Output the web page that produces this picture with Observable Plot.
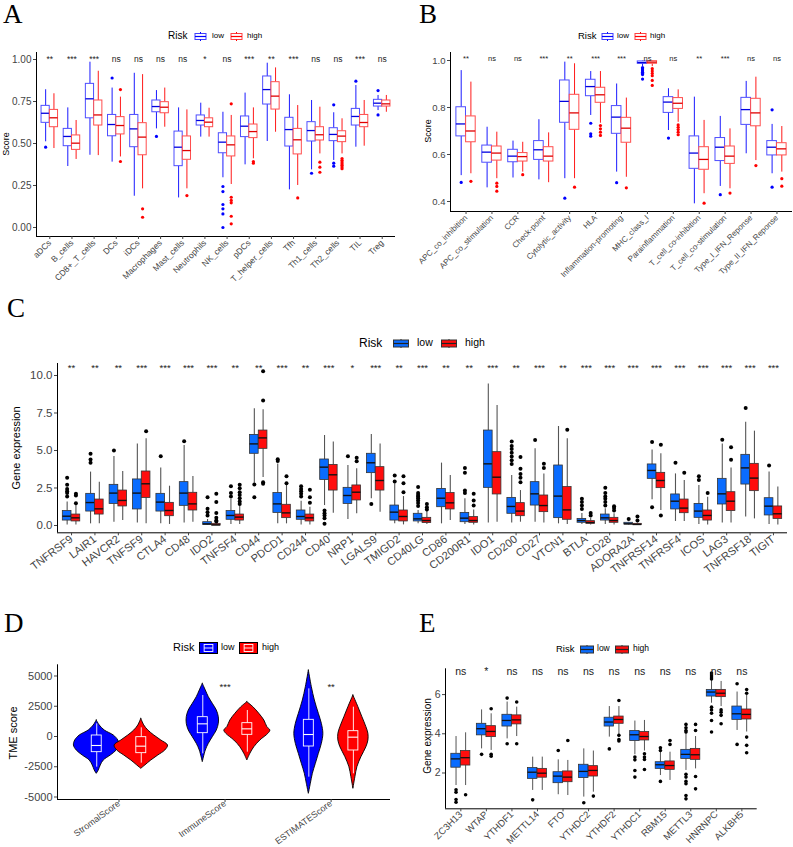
<!DOCTYPE html>
<html><head><meta charset="utf-8">
<script src="https://cdn.jsdelivr.net/npm/d3@7"></script>
<script src="https://cdn.jsdelivr.net/npm/@observablehq/plot@0.6"></script>
<style>
body{margin:0;background:#fff;font-family:"Liberation Sans",Arial,sans-serif;}
#root{position:relative;width:793px;height:847px;overflow:hidden;background:#fff;}
.letter{position:absolute;font-family:"Liberation Serif","Times New Roman",serif;font-size:27px;line-height:1.1;color:#000;}
.ytitle{position:absolute;white-space:nowrap;transform:translate(-50%,-50%) rotate(-90deg);color:#000;line-height:1;}
.lg{position:absolute;white-space:nowrap;color:#000;}
</style></head><body><div id="root"></div>
<script>
// ---------------- Panel A: immune cells (ssGSEA score) ----------------
const A_cells = ["aDCs","B_cells","CD8+_T_cells","DCs","iDCs","Macrophages","Mast_cells","Neutrophils","NK_cells","pDCs","T_helper_cells","Tfh","Th1_cells","Th2_cells","TIL","Treg"];
const A_sig = ["**","***","***","ns","ns","ns","ns","*","ns","***","**","***","ns","ns","***","ns"];
// [lower whisker, Q1, median, Q3, upper whisker]
const A_low = [
 [0.51,0.623,0.68,0.724,0.82],[0.363,0.484,0.542,0.587,0.712],[0.43,0.65,0.766,0.855,0.984],[0.389,0.543,0.613,0.67,0.83],
 [0.186,0.478,0.587,0.67,0.918],[0.587,0.686,0.72,0.756,0.815],[0.176,0.365,0.478,0.571,0.712],[0.538,0.607,0.637,0.667,0.74],
 [0.296,0.442,0.508,0.561,0.686],[0.373,0.538,0.603,0.661,0.80],[0.512,0.732,0.821,0.899,0.978],[0.224,0.482,0.583,0.653,0.79],
 [0.343,0.512,0.577,0.627,0.756],[0.399,0.514,0.554,0.591,0.683],[0.478,0.607,0.661,0.706,0.845],[0.696,0.72,0.74,0.76,0.786]];
const A_high = [
 [0.47,0.597,0.653,0.70,0.796],[0.405,0.462,0.502,0.548,0.637],[0.428,0.607,0.67,0.756,0.93],[0.42,0.554,0.607,0.657,0.776],
 [0.23,0.43,0.538,0.621,0.91],[0.597,0.68,0.716,0.746,0.83],[0.23,0.403,0.458,0.542,0.70],[0.538,0.597,0.627,0.65,0.71],
 [0.256,0.423,0.492,0.542,0.667],[0.409,0.532,0.571,0.613,0.712],[0.567,0.702,0.782,0.865,0.95],[0.25,0.435,0.522,0.587,0.726],
 [0.438,0.518,0.552,0.597,0.716],[0.438,0.508,0.544,0.573,0.647],[0.484,0.597,0.625,0.67,0.756],[0.686,0.72,0.736,0.756,0.786]];
const A_lowOut = [[0.478],[],[],[0.89],[],[0.542],[],[],[0.244,0.214,0.137,0.111,0.081,0.0],[],[],[],[0.323],[0.73,0.383,0.365],[0.871],[0.815,0.67]];
const A_highOut = [[],[],[],[0.821,0.393],[0.111,0.061],[],[0.19],[],[0.736,0.18,0.161,0.147,0.067,0.022],[0.393,0.383],[],[0.176],[0.389,0.359,0.329],[0.41,0.40,0.39,0.38,0.37,0.36,0.35],[],[]];
const A_yTicks = [0, 0.25, 0.5, 0.75, 1.0];

// ---------------- Panel B: immune functions ----------------
const B_sets = ["APC_co_inhibition","APC_co_stimulation","CCR","Check-point","Cytolytic_activity","HLA","Inflammation-promoting","MHC_class_I","Parainflammation","T_cell_co-inhibition","T_cell_co-stimulation","Type_I_IFN_Reponse","Type_II_IFN_Reponse"];
const B_sig = ["**","ns","ns","***","**","***","***","ns","ns","**","***","ns","ns"];
const B_low = [
 [0.51,0.677,0.73,0.801,0.957],[0.458,0.565,0.61,0.638,0.716],[0.50,0.567,0.593,0.62,0.657],[0.492,0.577,0.62,0.657,0.748],
 [0.497,0.735,0.826,0.915,0.993],[0.766,0.848,0.889,0.918,0.953],[0.525,0.688,0.759,0.806,0.90],[0.974,0.986,0.991,0.996,0.998],
 [0.702,0.777,0.823,0.844,0.88],[0.39,0.539,0.606,0.677,0.844],[0.464,0.572,0.631,0.67,0.762],[0.603,0.726,0.791,0.841,0.911],
 [0.518,0.596,0.631,0.657,0.728]];
const B_high = [
 [0.518,0.652,0.70,0.762,0.908],[0.497,0.574,0.606,0.634,0.695],[0.525,0.57,0.591,0.606,0.652],[0.48,0.57,0.593,0.631,0.692],
 [0.497,0.705,0.777,0.854,0.986],[0.733,0.82,0.854,0.884,0.953],[0.503,0.65,0.712,0.756,0.84],[0.974,0.986,0.993,0.997,0.999],
 [0.737,0.794,0.818,0.84,0.875],[0.433,0.535,0.579,0.631,0.745],[0.454,0.56,0.593,0.634,0.709],[0.574,0.72,0.777,0.837,0.929],
 [0.525,0.596,0.624,0.648,0.719]];
const B_lowOut = [[0.481],[],[],[],[0.414],[0.733,0.688,0.678],[0.48],[0.97,0.965,0.96,0.955,0.95,0.945,0.94,0.921],[0.67],[],[0.429],[],[0.79,0.461]];
const B_highOut = [[0.486],[0.478,0.464,0.444],[0.514],[],[0.461],[0.723,0.709,0.695,0.681],[0.458],[0.965,0.955,0.945,0.935,0.915,0.894],[0.726,0.716,0.706,0.695,0.684],[0.393],[0.436],[0.553],[0.497,0.465]];
const B_yTicks = [0.4, 0.6, 0.8, 1.0];

// ---------------- Panel C: immune checkpoint genes ----------------
const C_genes = ["TNFRSF9","LAIR1","HAVCR2","TNFSF9","CTLA4","CD48","IDO2","TNFSF4","CD44","PDCD1","CD244","CD40","NRP1","LGALS9","TMIGD2","CD40LG","CD86","CD200R1","IDO1","CD200","CD27","VTCN1","BTLA","CD28","ADORA2A","TNFRSF14","TNFRSF4","ICOS","LAG3","TNFRSF18","TIGIT"];
const C_sig = ["**","**","**","***","***","***","***","**","**","***","**","***","*","***","**","***","**","**","***","**","***","**","***","***","***","***","***","***","***","***","***"];
const C_low = [
 [0.04,0.33,0.62,0.96,1.56],[0.11,0.93,1.53,2.11,3.56],[0.22,1.44,2.16,2.71,4.6],[0.16,1.07,2.16,3.07,5.44],
 [0.11,0.93,1.56,2.11,3.84],[0.16,1.31,2.16,2.89,5.33],[0.0,0.04,0.11,0.22,0.4],[0.07,0.38,0.67,0.96,1.75],
 [2.82,4.78,5.44,6.04,7.78],[0.11,0.84,1.44,2.16,4.1],[0.04,0.38,0.6,1.0,1.62],[1.33,3.04,3.89,4.4,6.0],
 [0.4,1.44,2.0,2.51,4.0],[1.78,3.49,4.18,4.78,6.07],[0.11,0.33,0.89,1.33,2.78],[0.11,0.27,0.44,0.78,1.0],
 [0.11,1.22,1.82,2.44,4.16],[0.07,0.22,0.49,0.84,1.78],[0.16,2.51,4.11,6.33,9.44],[0.16,0.78,1.27,1.84,3.33],
 [0.22,1.33,2.11,2.89,5.11],[0.11,0.49,1.96,4.0,6.6],[0.07,0.18,0.33,0.44,0.8],[0.07,0.33,0.51,0.73,1.11],
 [0.04,0.07,0.11,0.18,0.22],[1.71,3.11,3.67,4.07,5.04],[0.27,1.07,1.62,2.07,3.44],[0.07,0.51,0.96,1.44,2.67],
 [0.16,1.4,2.11,3.11,5.44],[0.56,2.73,3.84,4.71,6.89],[0.07,0.67,1.29,1.82,3.56]];
const C_high = [
 [0.04,0.27,0.51,0.73,1.33],[0.11,0.73,1.11,1.73,2.89],[0.33,1.27,1.67,2.33,3.6],[0.11,1.84,2.78,3.6,5.78],
 [0.07,0.62,1.0,1.51,2.62],[0.22,1.0,1.44,2.18,3.27],[0.0,0.0,0.04,0.11,0.2],[0.07,0.33,0.56,0.73,1.3],
 [3.2,5.11,5.84,6.33,7.71],[0.11,0.49,0.84,1.38,2.7],[0.04,0.27,0.51,0.73,1.22],[0.82,2.33,3.38,4.04,5.56],
 [0.78,1.67,2.22,2.67,3.78],[0.89,2.33,3.0,3.89,5.44],[0.04,0.27,0.6,1.0,1.93],[0.07,0.16,0.33,0.51,0.95],
 [0.33,1.07,1.51,2.16,3.33],[0.04,0.18,0.33,0.56,1.04],[0.22,2.07,3.22,4.89,8.0],[0.22,0.62,0.96,1.49,2.33],
 [0.16,0.89,1.33,2.0,3.44],[0.07,0.38,1.04,2.56,5.78],[0.04,0.11,0.2,0.29,0.49],[0.04,0.18,0.33,0.51,0.78],
 [0.0,0.04,0.07,0.11,0.16],[1.0,2.49,3.0,3.51,4.78],[0.27,0.82,1.16,1.73,3.0],[0.04,0.33,0.67,1.0,1.89],
 [0.16,0.96,1.62,2.22,3.84],[0.44,2.29,3.16,4.11,6.29],[0.04,0.44,0.78,1.27,2.56]];
const C_lowOut = [
 [3.18,2.71,2.44,2.29,2.16,1.93],[4.78,4.4,4.18],[5.0],[],[4.62],[5.62],[1.89,1.11,0.89,0.67],[2.62,2.16,1.93],
 [2.73,1.89],[4.42,4.3],[2.62,2.44,2.29,2.11,1.93],[1.0,0.82,0.67,0.49,0.11],[4.62],[1.44],[3.33,2.93],
 [2.56,2.16,2.04,1.93,1.82,1.67,1.5,1.3],[],[3.84,3.51,2.33,2.16],[],[5.6,5.3,5.1,4.85,4.6,4.35,4.1],[5.7],[],
 [1.78,1.56,1.33,1.1],[2.51,2.16,1.93,1.78,1.56,1.33],[0.44],[5.56,1.22],[4.18],[3.29,3.04],[5.71],[7.84],[4.0]];
const C_highOut = [
 [2.11,2.0,1.49],[],[],[6.29],[],[],[2.11,1.56,0.84,0.51,0.33,0.27],[2.71,2.49,2.22,2.04,1.82,1.6,1.44],
 [10.29,8.33,2.89,2.78],[3.29,2.82],[2.38,1.89,1.51],[],[4.51,4.29],[],[3.29,2.82,2.22],[1.44,1.22,1.07],[],
 [2.11,1.67,1.33],[],[4.56,3.78,3.44,3.18,2.89],[4.11,3.84],[6.38],[0.84,0.67],[1.29,1.16,1.0],[0.6,0.33],
 [5.38,0.67],[3.51],[2.16],[5.22,4.38],[],[]];
const C_yTicks = [0, 2.5, 5, 7.5, 10];

// ---------------- Panel D: TME scores (violins) ----------------
const D_scores = ["StromalScore","ImmuneScore","ESTIMATEScore"];
const D_sig = ["","***","**"];
const D_lowBox = [[-2534,-1294,-743,83,1046],[-1432,275,1046,1597,3388],[-3360,-826,165,1377,3938]];
const D_highBox = [[-2203,-1377,-799,-55,716],[-1294,138,633,1102,2148],[-3083,-1156,-55,441,2423]];
// [score, relative density]
const D_lowDens = [
 [[1322,0],[909,3],[496,8],[83,17],[-330,21.5],[-743,22.8],[-1156,20],[-1570,14],[-1983,7],[-2396,4],[-2809,2],[-3083,0]],
 [[4355,0],[3800,3],[3250,6],[2700,10],[2148,14],[1597,16],[1046,16],[496,14],[-55,10],[-606,6],[-1156,3],[-2120,0]],
 [[5450,0],[4075,3],[2975,6],[1873,10],[1046,13],[220,14.5],[-606,13],[-1432,10],[-2257,7],[-3083,4],[-3909,2],[-4735,0]]];
const D_highDens = [
 [[1460,0],[909,3],[496,7],[83,13],[-330,20],[-743,26.7],[-1156,24],[-1570,17],[-1983,10],[-2396,4],[-2670,0]],
 [[2835,0],[2423,6],[1873,12],[1322,17],[771,20],[496,23],[220,21],[-330,13],[-882,7],[-1432,3],[-1983,0]],
 [[3388,0],[2423,5],[1597,9],[771,13],[220,15],[-330,15],[-882,13],[-1708,8],[-2533,4],[-3360,2],[-4322,0]]];
const D_yTicks = [-5000, -2500, 0, 2500, 5000];

// ---------------- Panel E: m6A regulators ----------------
const E_genes = ["ZC3H13","WTAP","YTHDF1","METTL14","FTO","YTHDC2","YTHDF2","YTHDC1","RBM15","METTL3","HNRNPC","ALKBH5"];
const E_sig = ["ns","*","ns","ns","ns","ns","ns","ns","ns","ns","ns","ns"];
const E_low = [
 [1.36,2.27,2.72,2.98,3.86],[3.23,3.92,4.26,4.51,5.22],[3.74,4.37,4.68,4.97,5.62],[1.11,1.7,2.04,2.25,2.81],
 [0.89,1.48,1.84,2.04,2.67],[0.77,1.74,2.08,2.42,3.23],[3.83,4.37,4.6,4.82,5.39],[2.93,3.63,3.95,4.14,4.65],
 [1.87,2.21,2.42,2.55,3.05],[2.13,2.72,2.95,3.18,4.03],[5.56,5.9,6.13,6.24,6.72],[4.17,4.71,5.02,5.39,6.13]];
const E_high = [
 [1.36,2.38,2.78,3.12,4.05],[3.15,3.83,4.12,4.39,5.02],[3.86,4.48,4.71,4.94,5.36],[1.11,1.76,1.99,2.21,2.81],
 [0.85,1.53,1.79,2.08,2.64],[1.02,1.82,2.13,2.35,3.12],[3.95,4.51,4.73,4.88,5.39],[3.12,3.66,3.86,4.09,4.68],
 [1.62,2.16,2.38,2.59,3.06],[2.21,2.67,2.93,3.23,3.86],[5.39,5.87,6.07,6.24,6.67],[4.09,4.73,4.99,5.24,5.96]];
const E_lowOut = [[1.14,1.02,0.65,0.51],[2.95],[5.82,3.49],[0.63],[3.15],[0.48],[3.23],[2.81,2.67,2.13,1.79],[3.29,3.15,1.57],
 [4.48,4.31,4.17,4.09,1.93,1.79,1.57,1.45,0.85,0.68],[7.1,7.0,6.9,6.8,5.36,5.22,5.05,4.68,4.09],[6.55,3.46]];
const E_highOut = [[0.89],[5.28,2.95,2.86],[5.62,3.49],[],[3.66],[0.82],[5.7,3.92,3.71,3.63],[2.98,2.81,2.69,2.18],[3.66,3.46],
 [4.48,4.17,1.82,1.19],[5.22,5.1,4.94,4.51],[6.26,6.07,3.83,3.41,3.03]];
const E_yTicks = [2, 4, 6];

const groups = ["low","high"];

// ---------------- helpers ----------------
const root = document.getElementById("root");
const FONT = "'Liberation Sans', Arial, sans-serif";
function put(el, left, top){ el.style.position="absolute"; el.style.left=left+"px"; el.style.top=top+"px"; root.appendChild(el); return el; }
function div(cls, html, css){ const d=document.createElement("div"); if(cls) d.className=cls; d.innerHTML=html; if(css) Object.assign(d.style, css); return d; }

function boxPanel(o){
  const n = o.names.length;
  const hw = 0.185, off = 0.1875;
  const marks = [];
  const sets = [
    {stats:o.low, out:o.lowOut, dx:-off, st:o.lowStyle},
    {stats:o.high, out:o.highOut, dx:off, st:o.highStyle}];
  for (const g of sets){
    const rows = g.stats.map((s,k)=>({x:k+1+g.dx, lo:s[0], q1:s[1], med:s[2], q3:s[3], hi:s[4]}));
    const outs = g.out.flatMap((arr,k)=>arr.map(v=>({x:k+1+g.dx, y:v})));
    marks.push(
      Plot.ruleX(rows,{x:"x", y1:"lo", y2:"q1", stroke:g.st.whisker, strokeWidth:o.wW}),
      Plot.ruleX(rows,{x:"x", y1:"q3", y2:"hi", stroke:g.st.whisker, strokeWidth:o.wW}),
      Plot.rect(rows,{x1:d=>d.x-hw, x2:d=>d.x+hw, y1:"q1", y2:"q3", fill:g.st.fill, stroke:g.st.stroke, strokeWidth:o.bW}),
      Plot.ruleY(rows,{y:"med", x1:d=>d.x-hw, x2:d=>d.x+hw, stroke:g.st.median, strokeWidth:o.mW}),
      Plot.dot(outs,{x:"x", y:"y", r:o.r, fill:g.st.dot})
    );
  }
  marks.push(
    Plot.text(o.sig,{x:(d,i)=>i+1, y:()=>o.sigY, text:d=>d, fontSize:o.sigSize, fill:"#222"}),
    Plot.ruleX([o.xDomain[0]],{stroke:"#000", strokeWidth:1}),
    Plot.ruleY([o.yDomain[0]],{stroke:"#000", strokeWidth:1}),
    Plot.axisY({ticks:o.yTicks, tickFormat:o.yFmt, fontSize:o.yFont, tickSize:3, tickPadding:2, label:null, color:"#444"}),
    Plot.axisX({ticks:d3.range(1,n+1), tickFormat:i=>o.names[i-1], tickRotate:o.xRot ?? -45, textAnchor:"end", fontSize:o.xFont, tickSize:3, tickPadding:o.xPad ?? 2, label:null, color:"#444"})
  );
  return Plot.plot({
    width:o.width, height:o.height,
    marginLeft:o.ml, marginRight:o.mr, marginTop:o.mt, marginBottom:o.mb,
    x:{type:"linear", domain:o.xDomain},
    y:{type:"linear", domain:o.yDomain},
    style:{fontFamily:FONT, background:"transparent", overflow:"visible", color:"#000"},
    marks
  });
}

function keySvg(kind, color, w, h){
  if (kind==="outline"){
    return `<svg width="${w}" height="${h}" style="display:block"><rect x="1" y="1.5" width="${w-2}" height="${h-3}" fill="#fff" stroke="${color}" stroke-opacity="0.75" stroke-width="1"/>`+
      `<line x1="1" x2="${w-1}" y1="${h/2}" y2="${h/2}" stroke="${color}" stroke-width="1.2"/>`+
      `<line x1="${w/2}" x2="${w/2}" y1="0" y2="1.5" stroke="${color}"/><line x1="${w/2}" x2="${w/2}" y1="${h-1.5}" y2="${h}" stroke="${color}"/></svg>`;
  }
  if (kind==="filled"){
    return `<svg width="${w}" height="${h}" style="display:block"><rect x="0.5" y="1" width="${w-1}" height="${h-2}" fill="${color}" stroke="#333" stroke-width="1"/>`+
      `<line x1="0.5" x2="${w-0.5}" y1="${h/2}" y2="${h/2}" stroke="#222" stroke-width="1.2"/>`+
      `<line x1="${w/2}" x2="${w/2}" y1="0" y2="1" stroke="#333"/><line x1="${w/2}" x2="${w/2}" y1="${h-1}" y2="${h}" stroke="#333"/></svg>`;
  }
  // violin key: filled with black border and white inner box
  return `<svg width="${w}" height="${h}" style="display:block"><rect x="0.5" y="0.5" width="${w-1}" height="${h-1}" fill="${color}" stroke="#000" stroke-width="1"/>`+
    `<rect x="${w*0.27}" y="2.5" width="${w*0.46}" height="${h-5}" fill="none" stroke="#fff" stroke-width="0.9"/>`+
    `<line x1="${w*0.27}" x2="${w*0.73}" y1="${h/2}" y2="${h/2}" stroke="#fff" stroke-width="0.9"/></svg>`;
}

function legend(o){
  // o.xs: [title, key1, label1, key2, label2]
  put(div("lg","Risk",{fontSize:o.ts+"px", lineHeight:o.ts+"px"}), o.xs[0], o.cy-o.ts/2-0.5);
  put(div("", keySvg(o.kind,o.c1,o.kw,o.kh)), o.xs[1], o.cy-o.kh/2);
  put(div("lg","low",{fontSize:o.ls+"px", lineHeight:o.ls+"px"}), o.xs[2], o.cy-o.ls/2-0.5);
  put(div("", keySvg(o.kind,o.c2,o.kw,o.kh)), o.xs[3], o.cy-o.kh/2);
  put(div("lg","high",{fontSize:o.ls+"px", lineHeight:o.ls+"px"}), o.xs[4], o.cy-o.ls/2-0.5);
}
function ytitle(text, cx, cy, size){ put(div("ytitle",text,{fontSize:size+"px"}), cx, cy); }

const outlineLow = {whisker:"#1a1aff", stroke:"#4d4dff", fill:"#fff", median:"#0000e0", dot:"#0000ff"};
const outlineHigh = {whisker:"#ff1a1a", stroke:"#ff4d4d", fill:"#fff", median:"#e00000", dot:"#ff0000"};
const filledLow = {whisker:"#555", stroke:"#333", fill:"#0a6cff", median:"#111", dot:"#000"};
const filledHigh = {whisker:"#555", stroke:"#333", fill:"#ff0d0d", median:"#111", dot:"#000"};

// ---------------- Panel A ----------------
put(boxPanel({names:A_cells, sig:A_sig, low:A_low, high:A_high, lowOut:A_lowOut, highOut:A_highOut,
  lowStyle:outlineLow, highStyle:outlineHigh,
  width:397, height:245, ml:36, mr:2, mt:7, mb:54,
  xDomain:[0.4, A_cells.length+0.6], yDomain:[-0.0536, 1.0417],
  yTicks:A_yTicks, yFmt:d3.format(".2f"), yFont:10, xFont:8.5, sigY:1.003, sigSize:8.5,
  wW:1, bW:1, mW:1.3, r:1.6}), 0, 45);
ytitle("Score", 6, 144, 9);
legend({xs:[168,194,212,230,247], cy:36, ts:10, ls:8, kind:"outline", c1:"#0000ff", c2:"#ff0000", kw:13, kh:9});
put(div("letter","A"), 3, 0);

// ---------------- Panel B ----------------
put(boxPanel({names:B_sets, sig:B_sig, low:B_low, high:B_high, lowOut:B_lowOut, highOut:B_highOut,
  lowStyle:outlineLow, highStyle:outlineHigh,
  width:398, height:245, ml:55, mr:1, mt:7, mb:79,
  xDomain:[0.4, B_sets.length+0.6], yDomain:[0.3574, 1.034],
  yTicks:B_yTicks, yFmt:d3.format(".1f"), yFont:9.5, xFont:8, sigY:1.006, sigSize:7.5,
  wW:1, bW:1, mW:1.3, r:1.6}), 395, 45);
ytitle("Score", 428, 131, 9);
legend({xs:[578,601,617,634,650], cy:36, ts:9.5, ls:8, kind:"outline", c1:"#0000ff", c2:"#ff0000", kw:13, kh:9});
put(div("letter","B"), 419, 0);

// ---------------- Panel C ----------------
put(boxPanel({names:C_genes, sig:C_sig, low:C_low, high:C_high, lowOut:C_lowOut, highOut:C_highOut,
  lowStyle:filledLow, highStyle:filledHigh,
  width:793, height:225, ml:57, mr:6, mt:8, mb:47.7,
  xDomain:[0.4, C_genes.length+0.6], yDomain:[-0.487, 10.8],
  yTicks:C_yTicks, yFmt:d3.format(".1f"), yFont:11.5, xFont:11, xRot:-37, sigY:10.47, sigSize:9.5,
  wW:1.1, bW:0.8, mW:1.4, r:2}), 0, 355);
ytitle("Gene expression", 16, 448, 11);
legend({xs:[359,393,417,441,465], cy:343, ts:12, ls:10.5, kind:"filled", c1:"#0a6cff", c2:"#ff0d0d", kw:16, kh:9});
put(div("letter","C"), 7, 294);

// ---------------- Panel D ----------------
{
  const dx = 0.21, dens = 0.252 / 26.7, bhw = 0.047;
  const marks = [];
  const sets = [{dens:D_lowDens, box:D_lowBox, off:-dx, fill:"#0000ff"}, {dens:D_highDens, box:D_highBox, off:dx, fill:"#ff0000"}];
  for (const g of sets){
    g.dens.forEach((prof,k)=>{
      const c = k+1+g.off;
      const pts = prof.map(([v,w])=>({y:v, x1:c-w*dens, x2:c+w*dens}));
      marks.push(Plot.areaX(pts,{y:"y", x1:"x1", x2:"x2", fill:g.fill, stroke:"#000", strokeWidth:0.9, curve:"catmull-rom"}));
    });
  }
  for (const g of sets){
    const rows = g.box.map((s,k)=>({x:k+1+g.off, lo:s[0], q1:s[1], med:s[2], q3:s[3], hi:s[4]}));
    marks.push(
      Plot.ruleX(rows,{x:"x", y1:"lo", y2:"q1", stroke:"#fff", strokeWidth:0.9}),
      Plot.ruleX(rows,{x:"x", y1:"q3", y2:"hi", stroke:"#fff", strokeWidth:0.9}),
      Plot.rect(rows,{x1:d=>d.x-bhw, x2:d=>d.x+bhw, y1:"q1", y2:"q3", fill:g.fill, stroke:"#fff", strokeWidth:0.9}),
      Plot.ruleY(rows,{y:"med", x1:d=>d.x-bhw, x2:d=>d.x+bhw, stroke:"#fff", strokeWidth:1.1})
    );
  }
  const xDom = [0.42, 3.56], yDom = [-5206, 5925];
  marks.push(
    Plot.text(D_sig,{x:(d,i)=>i+1, y:()=>4132, text:d=>d, fontSize:9.5, fill:"#222"}),
    Plot.ruleX([xDom[0]],{stroke:"#000"}),
    Plot.ruleY([yDom[0]],{stroke:"#000"}),
    Plot.axisY({ticks:D_yTicks, tickFormat:d=>String(d), fontSize:11, tickSize:3, tickPadding:2, label:null, color:"#444"}),
    Plot.axisX({ticks:[1,2,3], tickFormat:i=>D_scores[i-1], tickRotate:-36, textAnchor:"end", fontSize:9, tickSize:3, tickPadding:0, label:null, color:"#444"})
  );
  put(Plot.plot({width:395, height:192, marginLeft:57, marginRight:5, marginTop:9.3, marginBottom:48,
    x:{type:"linear", domain:xDom}, y:{type:"linear", domain:yDom},
    style:{fontFamily:FONT, background:"transparent", overflow:"visible", color:"#000"}, marks}), 0, 655);
}
ytitle("TME score", 13, 733, 11);
legend({xs:[173,199,221,239,262], cy:648, ts:11, ls:9, kind:"violin", c1:"#0000ff", c2:"#ff0000", kw:19, kh:12});
put(div("letter","D"), 4, 609);

// ---------------- Panel E ----------------
put(boxPanel({names:E_genes, sig:E_sig, low:E_low, high:E_high, lowOut:E_lowOut, highOut:E_highOut,
  lowStyle:filledLow, highStyle:filledHigh,
  width:398, height:187, ml:50, mr:36.3, mt:8.3, mb:38.7,
  xDomain:[0.4, E_genes.length+0.6], yDomain:[0.173, 7.316],
  yTicks:E_yTicks, yFmt:d=>String(d), yFont:10.5, xFont:9.5, xPad:1, sigY:7.19, sigSize:10.5,
  wW:1, bW:0.8, mW:1.3, r:1.8}), 395, 660);
ytitle("Gene expression", 428, 736, 10);
legend({xs:[556,580,597,615,633], cy:649, ts:9.5, ls:8.5, kind:"filled", c1:"#0a6cff", c2:"#ff0d0d", kw:14, kh:9});
put(div("letter","E"), 419, 609);
</script></body></html>
